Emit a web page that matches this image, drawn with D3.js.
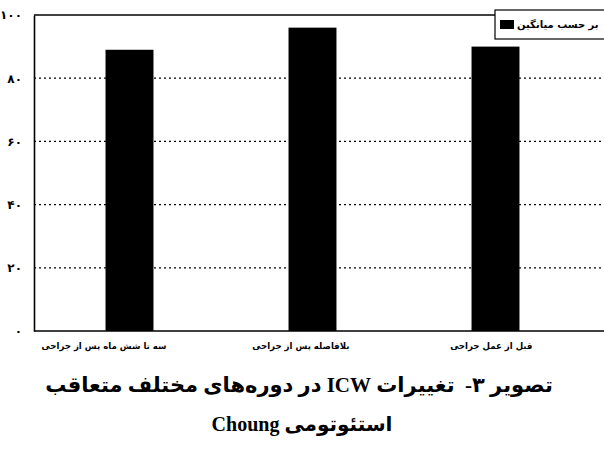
<!DOCTYPE html>
<html><head><meta charset="utf-8">
<script src="https://cdn.jsdelivr.net/npm/d3@7"></script>
<style>
html,body{margin:0;padding:0;background:#fff;}
svg{display:block;}
text{white-space:pre;}
</style></head>
<body>
<svg id="c" width="604" height="452"></svg>
<script>
const categories = ["سه تا شش ماه پس از جراحی", "بلافاصله پس از جراحی", "قبل از عمل جراحی"];
const values = [89, 96, 90];
const tickValues = [0, 20, 40, 60, 80, 100];
const tickLabels = ["۰", "۲۰", "۴۰", "۶۰", "۸۰", "۱۰۰"];
const legendLabel = "بر حسب میانگین";
const titleLine1 = "تصویر ۳-  تغییرات ICW در دوره‌های مختلف متعاقب";
const titleLine2 = "استئوتومی Choung";

(function () {
const svg = d3.select("#c");
const pLeft = 34, pRight = 604, pTop = 15, pBottom = 331;
const persian = "'Liberation Serif', 'DejaVu Sans', serif";
const sans = "'DejaVu Sans', sans-serif";

const y = d3.scaleLinear().domain([0, 100]).range([pBottom, pTop]);
const x = d3.scaleBand().domain(categories).range([38, 587]).paddingInner(0.738).paddingOuter(0.369);

// gridlines (dotted)
svg.append("g").selectAll("line").data(tickValues.filter(v => v > 0 && v < 100)).join("line")
  .attr("x1", pLeft).attr("x2", pRight)
  .attr("y1", d => y(d)).attr("y2", d => y(d))
  .attr("stroke", "#000").attr("stroke-width", 1.2).attr("stroke-dasharray", "2,3");

// top border
svg.append("line").attr("x1", pLeft).attr("x2", pRight).attr("y1", y(100)).attr("y2", y(100))
  .attr("stroke", "#000").attr("stroke-width", 1.5);

// bars
svg.append("g").selectAll("rect").data(categories).join("rect")
  .attr("x", d => x(d)).attr("width", x.bandwidth())
  .attr("y", (d, i) => y(values[i])).attr("height", (d, i) => y(0) - y(values[i]))
  .attr("fill", "#000");

// y axis
const yAxis = d3.axisLeft(y).tickValues(tickValues).tickSize(0).tickPadding(12)
  .tickFormat((d, i) => tickLabels[i]);
const ga = svg.append("g").attr("transform", `translate(${pLeft},0)`).call(yAxis);
ga.select(".domain").attr("stroke", "#000").attr("stroke-width", 1.6);
ga.selectAll("text").attr("font-family", sans).attr("font-weight", "bold").attr("font-size", 12).attr("fill", "#000");

// x axis
const xAxis = d3.axisBottom(x).tickSize(0).tickPadding(0).tickFormat("");
const gx = svg.append("g").attr("transform", `translate(0,${pBottom})`).call(xAxis);
gx.select(".domain").attr("d", `M${pLeft},0H${pRight}`).attr("stroke", "#000").attr("stroke-width", 1.6);

// category labels
svg.append("g").selectAll("text").data(categories).join("text")
  .attr("x", d => x(d) + x.bandwidth() / 2 + 37)
  .attr("y", 349)
  .attr("direction", "rtl")
  .attr("text-anchor", "start")
  .attr("font-family", sans).attr("font-weight", "bold").attr("font-size", 8.6)
  .attr("fill", "#000")
  .text(d => d);

// legend
const lg = svg.append("g");
lg.append("rect").attr("x", 495).attr("y", 10).attr("width", 120).attr("height", 29)
  .attr("fill", "#fff").attr("stroke", "#000").attr("stroke-width", 1.2);
lg.append("rect").attr("x", 500).attr("y", 20).attr("width", 14).attr("height", 9).attr("fill", "#000");
lg.append("text").attr("x", 517).attr("y", 28).attr("direction", "rtl").attr("text-anchor", "end")
  .attr("font-family", sans).attr("font-weight", "bold").attr("font-size", 10).attr("fill", "#000")
  .text(legendLabel);

// title
svg.append("text").attr("x", 299).attr("y", 392).attr("text-anchor", "middle").attr("direction", "rtl")
  .attr("font-family", persian).attr("font-weight", "bold").attr("font-size", 21).attr("fill", "#000")
  .text(titleLine1);
svg.append("text").attr("x", 302).attr("y", 431).attr("text-anchor", "middle").attr("direction", "rtl")
  .attr("font-family", persian).attr("font-weight", "bold").attr("font-size", 20).attr("fill", "#000")
  .text(titleLine2);
})();
</script>
</body></html>
